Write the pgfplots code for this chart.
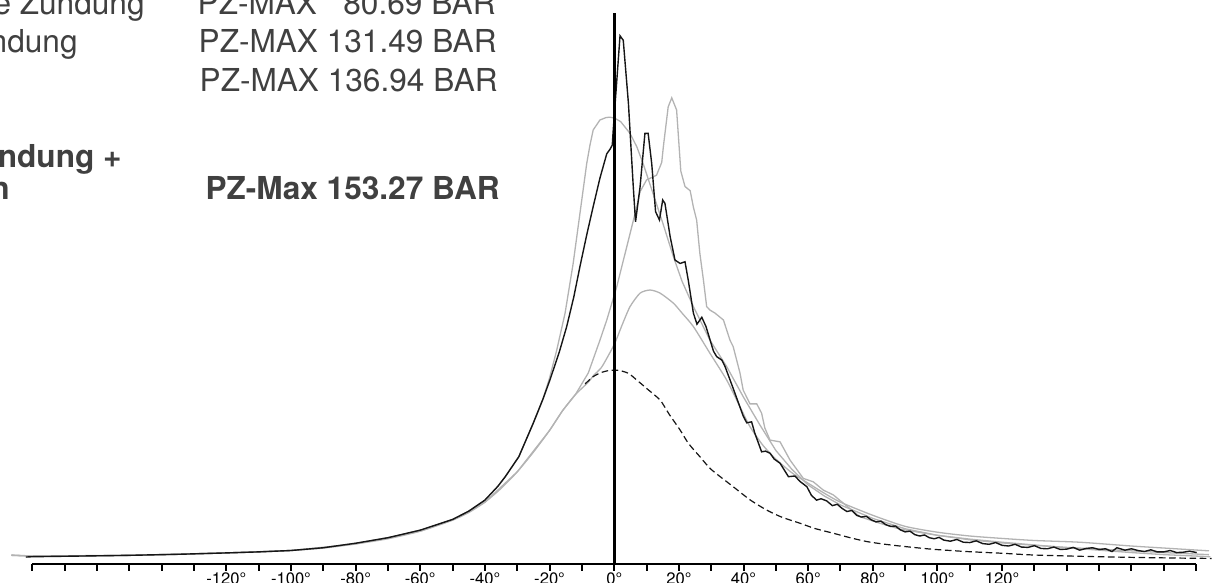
\documentclass[border=0pt]{standalone}
\usepackage{fontspec}
\setmainfont{TeX Gyre Heros}
\usepackage{pgfplots}
\pgfplotsset{compat=1.18}
\definecolor{curvegray}{HTML}{B3B3B3}
\definecolor{textgray}{HTML}{404040}
\definecolor{curveblack}{HTML}{161616}

\begin{document}
\begin{tikzpicture}
\begin{axis}[
  width=610pt, height=291.5pt, scale only axis,
  xmin=-190.01, xmax=187.41, ymin=-5.42, ymax=163.57,
  axis x line=middle, axis y line=none,
  x axis line style={draw=none},
  hide obscured x ticks=false,
  xtick={-180,-170,...,180},
  xticklabels={,,,,,,-120°,,-100°,,-80°,,-60°,,-40°,,-20°,,0°,,20°,,40°,,60°,,80°,,100°,,120°,,,,,,},
  tick align=outside,
  major tick length=3.3pt,
  every tick/.style={black, line width=1pt},
  xticklabel style={font=\fontsize{8.3pt}{9pt}\selectfont, anchor=base, yshift=-6.9pt},
  clip=false,
]
% gray A: early ignition
\addplot[curvegray, line width=0.65pt] coordinates {
(-186.5,2.7) (-180,2.4) (-165,2.4) (-150,2.6) (-135,2.9) (-120,3.3) (-110,3.6) (-100,4.0)
(-90,4.8) (-80,6.1) (-70,7.7) (-60,9.9) (-50,13.0) (-45,15.4) (-40,18.6) (-36,22.6)
(-33.7,25.4) (-29.5,31.2) (-25,41.0) (-22,48.0) (-20,54) (-17.8,62) (-15.2,72.8)
(-12.7,87.2) (-10.6,101.7) (-8.5,116.2) (-7.5,121.5) (-6.5,125.9) (-4.4,128.8) (-2.5,129.5)
(-1.3,129.6) (0.2,129.3) (2,128.3) (4.9,124.9) (7,121) (9,116) (12,107.5) (15,99)
(18.3,89.2) (21,82) (24.5,74.7) (29.6,65) (34.8,57.3) (39.9,48.6) (45,40.5) (50,33)
(55,27.5) (60,23) (65,19.8) (70,17.2) (80,13.3) (90,10.3) (100,8.4) (110,7.1) (120,6.2)
(130,5.5) (140,4.9) (150,4.4) (160,3.9) (170,3.4) (184,2.8)
};
% gray B: slow burn
\addplot[curvegray, line width=0.65pt, smooth, tension=0.4] coordinates {
(-186.5,2.6) (-180,2.4) (-165,2.4) (-150,2.6) (-135,2.9) (-120,3.3) (-110,3.6) (-100,4.0)
(-90,4.7) (-80,5.9) (-70,7.4) (-60,9.6) (-50,12.8) (-45,15.0) (-40,18.0) (-35,22.0)
(-30,26.8) (-25,32.5) (-20,38.8) (-16,44.5) (-12,49.2) (-8,52.8) (-6.5,54.6) (-4,57)
(-2,60.2) (0.2,64.1) (2.5,69.5) (4.9,74.7) (8,78.6) (11.1,79.5) (14.2,78.6) (18.3,75.7)
(21,72.8) (24.5,68.9) (29.6,61.2) (34.8,53.4) (38.9,45.7) (42,39.9) (46,34.5) (50,30.5)
(55,26.5) (60,23.5) (65,20.6) (70,18.0) (80,14.2) (90,11.0) (100,9.3) (110,8.2) (120,7.5)
(130,6.9) (144,6.4) (160,5.3) (172,4.6) (184,3.9)
};
% gray C: late ignition
\addplot[curvegray, line width=0.65pt] coordinates {
(-186.5,2.6) (-180,2.4) (-150,2.6) (-120,3.3) (-100,4.0) (-80,5.9) (-60,9.6) (-50,12.8)
(-40,18.0) (-30,26.8) (-20,38.8) (-16,44.5) (-12,49.2) (-8,55.5) (-4.4,65) (-2.3,70.8)
(0.8,80.5) (3.9,92.1) (7,103.7) (8,108) (10,111.4) (13.1,112.8) (14.7,116.5) (15.2,121)
(16.7,132.6) (17.8,135.2) (19.3,131.7) (20.6,114) (21.9,109.5) (23.5,108.3) (24.5,103.5)
(25.5,99.8) (26.5,90.1) (27.6,82.4) (28.6,74.7) (29.6,73.7) (31.2,72.8) (33.8,70.8)
(35.8,65.0) (36.8,63.1) (38.9,55.5) (39.9,50.5) (42,46.5) (44.1,46.5) (45.6,43.8)
(46.6,39.5) (48.2,36.0) (51.3,35.5) (54.4,30.2) (58.5,24.9) (61.6,23.9) (64.7,21.5)
(67.8,20.1) (70.9,17.7) (76,13.8) (82.2,11.9) (88.4,10.2) (100,8.4) (110,7.3) (120,6.4)
(130,5.6) (140,4.8) (150,4.1) (160,3.4) (170,2.8) (184.4,2.2)
};
% dashed: motored
\addplot[curveblack, line width=0.6pt, dash pattern=on 3.3pt off 1.8pt, smooth, tension=0.4] coordinates {
(-9,52.3) (-6.5,54.4) (-4,55.6) (-2,56.1) (0,56.3) (2,56.1) (4.5,55.3) (7,53.4) (10,51)
(14.2,47.6) (17,43.5) (20.4,38.9) (23,35) (26.5,31.2) (30,27.5) (36.8,22.5) (42,18.7)
(47.2,15.7) (52,13.6) (57.5,11.9) (62,10.4) (67.8,9.0) (73,7.7) (78.1,6.6) (83,5.9)
(88.4,5.3) (98,4.4) (109,3.7) (120,3.2) (129.6,2.7) (145,2.3) (160.6,2.0) (175,1.8) (184.8,1.7)
};
% black: measured
\addplot[curveblack, line width=0.7pt] coordinates {
(-182,2.1) (-180,2.2) (-165,2.4) (-150,2.6) (-135,2.9) (-120,3.3) (-110,3.6) (-100,4.0)
(-90,4.8) (-80,6.1) (-70,7.7) (-60,9.9) (-50,13.0) (-45,15.4) (-40,18.6) (-36,22.6)
(-33.7,25.4) (-29.5,31.2) (-25,41.0) (-22,48.0) (-19.9,53.4) (-17,61.5) (-14.7,68.9)
(-12.5,77.5) (-10.6,86.3) (-8.5,95.5) (-6.5,103.7) (-4.4,112.0) (-2.3,119.0) (-1.3,120.3)
(-0.6,121.5) (-0.3,125.9) (1.8,153.2) (2.8,151.9) (4.4,133.6) (5.9,109.4) (6.6,99.3)
(8.0,109.4) (9.5,124.9) (10.5,124.9) (11.6,116.2) (12.8,102.2) (14.0,99.8) (15.0,105.6)
(15.7,104.6) (17.3,95.0) (18.8,88.2) (20.4,87.2) (21.9,87.7) (22.9,82.4) (24.5,72.8)
(25.6,69.6) (27.1,71.6) (28.4,68.9) (30.7,61.8) (31.7,60.2) (33.3,59.2) (34.3,57.3)
(36.8,51.0) (39.9,43.0) (41.0,41.0) (42.5,41.3) (43.5,38.0) (45.6,32.6) (46.8,32.8)
(48.2,32.2) (49.5,30.5) (51.3,29.3) (53.9,25.4) (55.9,25.6) (57.5,24.0) (59.6,22.5)
(61,20.0) (62.6,18.6) (64,19.0) (65.7,18.4) (67.5,17.0) (69,17.4) (70.5,16.2) (72,15.3)
(73.5,15.6) (75,14.2) (76.5,13.7) (78,13.9) (79.5,12.9) (81,12.3) (82.5,12.5) (84,11.5)
(85.5,11.0) (87,11.1) (88.5,10.0) (90,9.4) (91.5,9.6) (93,8.6) (94.5,8.2) (96,8.5)
(97.5,7.7) (99,7.4) (100.5,7.8) (102,7.0) (104,6.7) (106,7.2) (108,6.4) (110,6.3)
(112,6.8) (114,6.0) (116,5.8) (118,6.3) (120,5.5) (122,5.3) (124,5.8) (126,5.0)
(128,4.9) (130,5.4) (132,4.6) (134,4.5) (136,5.0) (138,4.3) (140,4.4) (142,4.9)
(144,4.1) (146,4.6) (148,4.8) (150,4.3) (152,4.5) (154,3.7) (155.5,4.8) (158,4.1)
(160,4.5) (162,4.0) (164,3.7) (166,4.2) (168,3.6) (170,3.6) (172,4.0) (174,3.4)
(176,3.5) (178,3.8) (180.2,3.4)
};
% baseline and TDC line
\addplot[black, line width=1pt] coordinates {(-180,0) (180,0)};
\addplot[black, line width=1.35pt] coordinates {(0,0) (0,159.7)};

\begin{scope}[every node/.style={inner sep=0pt, text=textgray, font=\fontsize{15.8pt}{16pt}\selectfont}]
\node[anchor=base east] at (rel axis cs:0.11885,0.97427) {ohne Zündung};
\node[anchor=base east] at (rel axis cs:0.40656,0.97427) {PZ-MAX \hphantom{1}80.69 BAR};
\node[anchor=base east] at (rel axis cs:0.06393,0.90909) {Zündung};
\node[anchor=base east] at (rel axis cs:0.40738,0.90909) {PZ-MAX 131.49 BAR};
\node[anchor=base east] at (rel axis cs:0.40820,0.84391) {PZ-MAX 136.94 BAR};
\node[anchor=base east, font=\fontsize{15.8pt}{16pt}\selectfont\bfseries] at (rel axis cs:0.1,0.71355) {Zündung +};
\node[anchor=base east, font=\fontsize{15.8pt}{16pt}\selectfont\bfseries] at (rel axis cs:0.0082,0.6578) {n};
\node[anchor=base east, font=\fontsize{15.8pt}{16pt}\selectfont\bfseries] at (rel axis cs:0.40984,0.6578) {PZ-Max 153.27 BAR};
\end{scope}
\coordinate (bbsw) at (rel axis cs:0,0);
\coordinate (bbne) at (rel axis cs:1,1);
\end{axis}
\pgfresetboundingbox
\path[use as bounding box] (bbsw) rectangle (bbne);
\end{tikzpicture}
\end{document}
